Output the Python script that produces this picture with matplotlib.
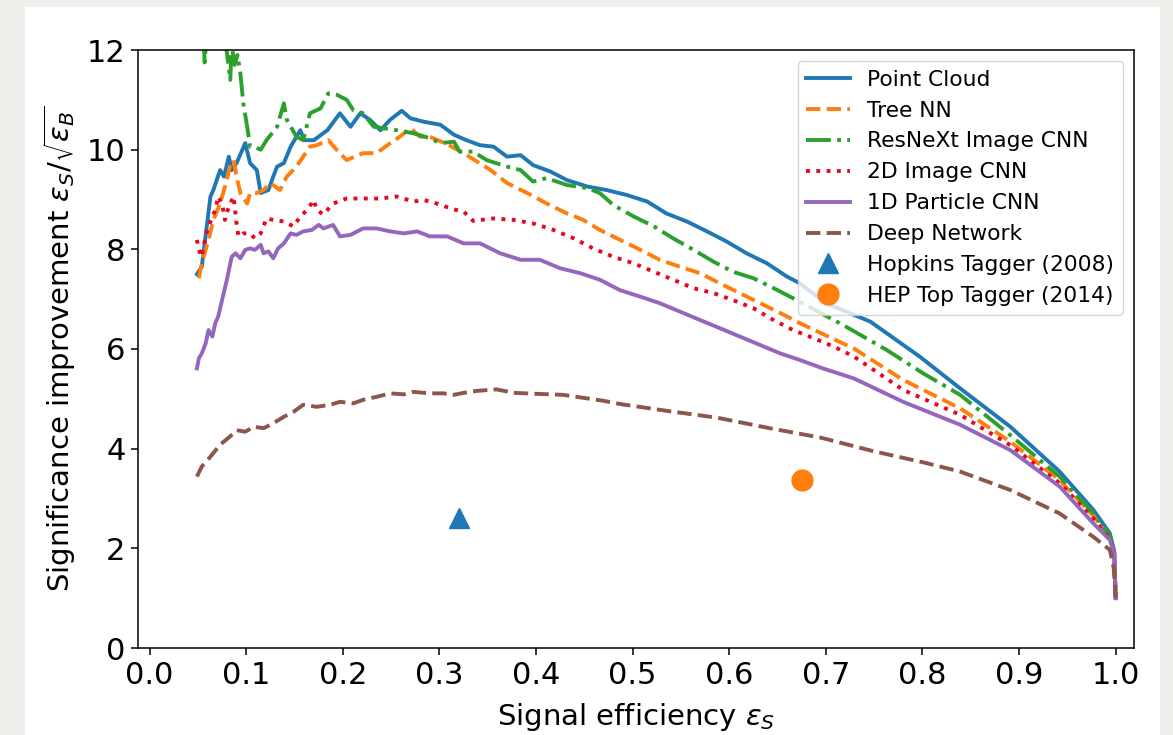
import numpy as np
import matplotlib
matplotlib.use('Agg')
import matplotlib.pyplot as plt
from matplotlib.patches import Rectangle

# signal efficiency / significance improvement
pc_x = [0.049, 0.054, 0.063, 0.066, 0.073, 0.077, 0.082, 0.085, 0.090, 0.099, 0.104, 0.111,
        0.115, 0.123, 0.128, 0.132, 0.139, 0.146, 0.152, 0.156, 0.160, 0.170, 0.184, 0.197,
        0.208, 0.218, 0.228, 0.239, 0.249, 0.261, 0.270, 0.284, 0.301, 0.315, 0.328, 0.342,
        0.356, 0.370, 0.384, 0.397, 0.415, 0.432, 0.453, 0.473, 0.494, 0.515, 0.535, 0.556,
        0.577, 0.597, 0.618, 0.639, 0.660, 0.673, 0.700, 0.746, 0.797, 0.839, 0.891, 0.942,
        0.977, 0.994, 0.9985, 1.000]
pc_y = [7.50, 7.65, 9.06, 9.19, 9.59, 9.46, 9.86, 9.59, 9.73, 10.13, 9.73, 9.59,
        9.13, 9.19, 9.46, 9.66, 9.73, 10.06, 10.26, 10.39, 10.19, 10.19, 10.39, 10.73,
        10.46, 10.73, 10.60, 10.39, 10.60, 10.78, 10.63, 10.56, 10.50, 10.30, 10.19, 10.09,
        10.06, 9.86, 9.89, 9.69, 9.56, 9.39, 9.26, 9.19, 9.09, 8.96, 8.72, 8.56,
        8.36, 8.16, 7.92, 7.72, 7.45, 7.32, 6.92, 6.55, 5.85, 5.21, 4.44, 3.54,
        2.77, 2.30, 1.95, 1.00]

tn_x = [0.051, 0.054, 0.061, 0.066, 0.073, 0.080, 0.083, 0.087, 0.090, 0.094, 0.101, 0.104,
        0.111, 0.118, 0.125, 0.135, 0.142, 0.152, 0.159, 0.166, 0.173, 0.185, 0.194, 0.204,
        0.221, 0.235, 0.249, 0.259, 0.270, 0.280, 0.290, 0.308, 0.325, 0.339, 0.353, 0.370,
        0.391, 0.411, 0.432, 0.449, 0.466, 0.487, 0.508, 0.528, 0.549, 0.570, 0.590, 0.611,
        0.632, 0.653, 0.673, 0.697, 0.729, 0.780, 0.839, 0.891, 0.942, 0.977, 0.994, 0.9985,
        1.000]
tn_y = [7.42, 7.72, 8.19, 8.59, 8.92, 9.39, 9.66, 9.79, 9.46, 9.13, 8.92, 9.13,
        9.13, 9.19, 9.33, 9.19, 9.46, 9.66, 9.86, 10.06, 10.09, 10.19, 9.99, 9.79,
        9.93, 9.93, 10.13, 10.26, 10.43, 10.26, 10.26, 10.11, 9.93, 9.76, 9.59, 9.33,
        9.13, 8.92, 8.72, 8.59, 8.39, 8.19, 7.99, 7.79, 7.65, 7.52, 7.32, 7.12,
        6.92, 6.72, 6.52, 6.30, 6.01, 5.38, 4.81, 4.14, 3.37, 2.65, 2.22, 1.92,
        1.00]

rx_x = [0.050, 0.055, 0.057, 0.059, 0.065, 0.075, 0.080, 0.0835, 0.085, 0.088, 0.091, 0.094,
        0.097, 0.101, 0.104, 0.108, 0.115, 0.121, 0.132, 0.139, 0.142, 0.152, 0.159, 0.166,
        0.177, 0.185, 0.194, 0.204, 0.211, 0.221, 0.232, 0.242, 0.256, 0.273, 0.290, 0.301,
        0.315, 0.321, 0.335, 0.349, 0.370, 0.384, 0.397, 0.411, 0.432, 0.453, 0.466, 0.480,
        0.501, 0.522, 0.542, 0.563, 0.584, 0.604, 0.625, 0.646, 0.666, 0.718, 0.763, 0.800,
        0.839, 0.891, 0.942, 0.977, 0.994, 0.9985, 1.000]
rx_y = [14.5, 12.6, 11.75, 12.3, 13.2, 12.6, 11.95, 11.40, 12.10, 11.70, 11.90, 11.53,
        10.93, 10.46, 10.06, 10.06, 10.00, 10.19, 10.46, 10.93, 10.60, 10.26, 10.19, 10.73,
        10.83, 11.13, 11.10, 11.00, 10.79, 10.73, 10.46, 10.43, 10.39, 10.33, 10.23, 10.13,
        10.16, 9.96, 9.96, 9.79, 9.66, 9.59, 9.36, 9.43, 9.29, 9.23, 9.13, 8.89,
        8.66, 8.46, 8.22, 7.99, 7.75, 7.55, 7.42, 7.22, 7.02, 6.48, 5.98, 5.52,
        5.08, 4.27, 3.44, 2.70, 2.25, 1.93, 1.00]

ic_x = [0.049, 0.051, 0.054, 0.058, 0.061, 0.068, 0.071, 0.075, 0.078, 0.082, 0.087, 0.090,
        0.092, 0.097, 0.104, 0.109, 0.115, 0.121, 0.128, 0.139, 0.149, 0.156, 0.163, 0.170,
        0.173, 0.180, 0.190, 0.204, 0.221, 0.239, 0.256, 0.273, 0.284, 0.297, 0.315, 0.325,
        0.335, 0.356, 0.377, 0.397, 0.418, 0.439, 0.459, 0.480, 0.501, 0.522, 0.542, 0.563,
        0.584, 0.604, 0.625, 0.646, 0.666, 0.687, 0.708, 0.729, 0.780, 0.839, 0.891, 0.942,
        0.977, 0.994, 0.9985, 1.000]
ic_y = [8.19, 7.99, 7.85, 8.26, 8.46, 8.79, 9.06, 8.92, 8.59, 8.86, 9.06, 8.52,
        8.26, 8.32, 8.32, 8.22, 8.32, 8.62, 8.59, 8.56, 8.46, 8.66, 8.79, 8.99,
        8.79, 8.70, 8.92, 9.02, 9.02, 9.02, 9.06, 8.96, 8.99, 8.92, 8.80, 8.76,
        8.57, 8.62, 8.59, 8.52, 8.39, 8.22, 8.02, 7.85, 7.72, 7.55, 7.39, 7.22,
        7.12, 6.98, 6.82, 6.58, 6.38, 6.22, 6.05, 5.85, 5.18, 4.68, 4.07, 3.31,
        2.60, 2.20, 1.91, 1.00]

pp_x = [0.049, 0.051, 0.054, 0.058, 0.061, 0.065, 0.068, 0.071, 0.075, 0.080, 0.085, 0.089,
        0.094, 0.099, 0.104, 0.109, 0.115, 0.118, 0.123, 0.128, 0.133, 0.139, 0.146, 0.152,
        0.159, 0.168, 0.175, 0.180, 0.190, 0.197, 0.208, 0.221, 0.235, 0.249, 0.263, 0.277,
        0.290, 0.308, 0.325, 0.342, 0.363, 0.384, 0.404, 0.425, 0.446, 0.466, 0.487, 0.508,
        0.528, 0.549, 0.570, 0.590, 0.611, 0.632, 0.653, 0.673, 0.697, 0.729, 0.780, 0.839,
        0.891, 0.942, 0.977, 0.994, 0.9985, 1.000]
pp_y = [5.61, 5.81, 5.91, 6.11, 6.38, 6.25, 6.52, 6.65, 6.98, 7.39, 7.85, 7.92,
        7.82, 7.99, 8.02, 7.99, 8.09, 7.92, 7.96, 7.82, 8.02, 8.12, 8.32, 8.29,
        8.36, 8.39, 8.49, 8.42, 8.49, 8.26, 8.29, 8.42, 8.42, 8.36, 8.32, 8.36,
        8.26, 8.26, 8.12, 8.12, 7.92, 7.79, 7.79, 7.62, 7.52, 7.39, 7.18, 7.05,
        6.92, 6.75, 6.58, 6.42, 6.25, 6.08, 5.91, 5.78, 5.61, 5.41, 4.94, 4.48,
        3.97, 3.24, 2.50, 2.17, 1.90, 1.00]

dn_x = [0.049, 0.054, 0.063, 0.073, 0.083, 0.090, 0.099, 0.108, 0.118, 0.128, 0.139, 0.149,
        0.159, 0.173, 0.187, 0.197, 0.211, 0.221, 0.235, 0.249, 0.263, 0.273, 0.290, 0.304,
        0.315, 0.325, 0.339, 0.359, 0.377, 0.401, 0.428, 0.449, 0.470, 0.489, 0.535, 0.588,
        0.642, 0.695, 0.749, 0.802, 0.839, 0.891, 0.942, 0.977, 0.994, 0.998, 1.000]
dn_y = [3.44, 3.64, 3.84, 4.08, 4.24, 4.37, 4.34, 4.44, 4.41, 4.51, 4.64, 4.74,
        4.88, 4.84, 4.88, 4.94, 4.91, 4.98, 5.04, 5.11, 5.09, 5.14, 5.11, 5.11,
        5.08, 5.12, 5.16, 5.19, 5.12, 5.10, 5.08, 5.02, 4.96, 4.89, 4.76, 4.62,
        4.41, 4.22, 3.95, 3.72, 3.54, 3.17, 2.70, 2.23, 1.97, 1.60, 1.00]

hopkins = (0.32, 2.6)
heptop = (0.675, 3.37)

fig = plt.figure(figsize=(11.73, 7.35), dpi=100, facecolor='#f0eeea')
# white paper area behind the plot
fig.add_artist(Rectangle((25 / 1173, 0), 1135 / 1173, 728 / 735, transform=fig.transFigure,
                         facecolor='white', edgecolor='none', zorder=-10))
ax = fig.add_axes([138 / 1173, 87 / 735, 996 / 1173, 598 / 735])

lw = 2.8
ax.plot(pc_x, pc_y, color='#1f77b4', lw=lw, ls='-', label='Point Cloud')
ax.plot(tn_x, tn_y, color='#ff7f0e', lw=lw, ls='--', label='Tree NN')
ax.plot(rx_x, rx_y, color='#2ca02c', lw=lw, ls='-.', label='ResNeXt Image CNN')
ax.plot(ic_x, ic_y, color='#e8081e', lw=lw, ls=':', label='2D Image CNN')
ax.plot(pp_x, pp_y, color='#9467bd', lw=lw, ls='-', label='1D Particle CNN')
ax.plot(dn_x, dn_y, color='#8c564b', lw=lw, ls='--', label='Deep Network')
ax.plot([hopkins[0]], [hopkins[1]], ls='none', marker='^', ms=14, color='#1f77b4',
        label='Hopkins Tagger (2008)')
ax.plot([heptop[0]], [heptop[1]], ls='none', marker='o', ms=15, color='#ff7f0e',
        label='HEP Top Tagger (2014)')

ax.set_xlim(-0.012, 1.019)
ax.set_ylim(0, 12)
ax.set_xticks(np.arange(0, 1.01, 0.1))
ax.set_yticks(np.arange(0, 13, 2))
ax.tick_params(labelsize=22, length=5, width=1.1, pad=4)
for s in ax.spines.values():
    s.set_linewidth(1.1)

ax.set_xlabel(r'Signal efficiency $\varepsilon_S$', fontsize=21, labelpad=8.5)
ax.set_ylabel(r'Significance improvement $\varepsilon_S/\sqrt{\varepsilon_B}$', fontsize=21,
              labelpad=6)

ax.legend(loc='upper right', fontsize=15.7, numpoints=1)

fig.savefig('out.png', dpi=100, facecolor=fig.get_facecolor())
